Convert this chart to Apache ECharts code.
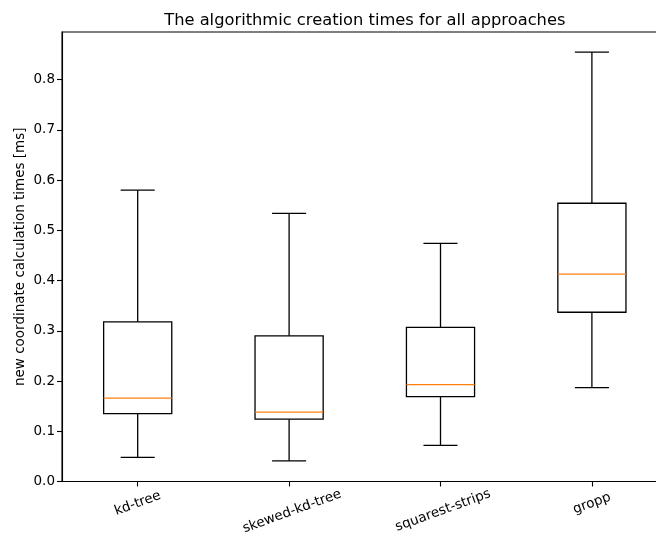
<!DOCTYPE html>
<html>
<head>
<meta charset="utf-8">
<script src="https://cdn.jsdelivr.net/npm/echarts@6/dist/echarts.min.js"></script>
<style>
  html, body { margin: 0; padding: 0; background: #fff; }
  #chart { width: 656px; height: 542px; }
</style>
</head>
<body>
<div id="chart"></div>
<script>
// Approaches on the x axis
const approaches = ['kd-tree', 'skewed-kd-tree', 'squarest-strips', 'gropp'];

// Box statistics per approach, in ms
const whiskerLow  = [0.048, 0.041, 0.072, 0.187];
const quartile1   = [0.135, 0.124, 0.169, 0.337];
const medians     = [0.166, 0.138, 0.193, 0.413];
const quartile3   = [0.318, 0.290, 0.307, 0.554];
const whiskerHigh = [0.580, 0.534, 0.474, 0.855];

// Y axis ticks
const yTicks = [0.0, 0.1, 0.2, 0.3, 0.4, 0.5, 0.6, 0.7, 0.8];

// Extra top padding for the longer rotated labels so they sit lower
const labelPad = [0, 17, 15, 0];

const FONT = 'DejaVu Sans';

const boxData = approaches.map((_, i) => [
  i, whiskerLow[i], quartile1[i], medians[i], quartile3[i], whiskerHigh[i]
]);

function renderBox(params, api) {
  const i = api.value(0);
  const pLow = api.coord([i, api.value(1)]);
  const pQ1 = api.coord([i, api.value(2)]);
  const pMed = api.coord([i, api.value(3)]);
  const pQ3 = api.coord([i, api.value(4)]);
  const pHigh = api.coord([i, api.value(5)]);
  const band = api.size([1, 0])[0];
  const boxW = band * 0.45;
  const capW = boxW / 2;
  const cx = pMed[0];
  const lineStyle = { stroke: '#000', lineWidth: 1.3, fill: null };
  const seg = (x1, y1, x2, y2, style) => ({
    type: 'line',
    shape: { x1, y1, x2, y2 },
    style: style || lineStyle
  });
  return {
    type: 'group',
    children: [
      // whiskers
      seg(cx, pQ1[1], cx, pLow[1]),
      seg(cx, pQ3[1], cx, pHigh[1]),
      // caps
      seg(cx - capW / 2, pLow[1], cx + capW / 2, pLow[1]),
      seg(cx - capW / 2, pHigh[1], cx + capW / 2, pHigh[1]),
      // box
      {
        type: 'rect',
        shape: { x: cx - boxW / 2, y: pQ3[1], width: boxW, height: pQ1[1] - pQ3[1] },
        style: { stroke: '#000', lineWidth: 1.3, fill: 'none' }
      },
      // median
      seg(cx - boxW / 2, pMed[1], cx + boxW / 2, pMed[1],
          { stroke: '#ff7f0e', lineWidth: 1.3 })
    ]
  };
}

const chart = echarts.init(document.getElementById('chart'), null, { renderer: 'canvas' });

const rich = {};
labelPad.forEach((p, i) => {
  rich['l' + i] = {
    fontFamily: FONT, fontSize: 13.5, color: '#000',
    padding: [p, 0, 0, 0]
  };
});

chart.setOption({
  animation: false,
  backgroundColor: '#fff',
  title: {
    text: 'The algorithmic creation times for all approaches',
    left: 359.8,
    top: 8,
    textAlign: 'center',
    textStyle: { fontFamily: FONT, fontSize: 16.3, fontWeight: 'normal', color: '#000' }
  },
  // plot area runs slightly past the right edge of the canvas
  grid: {
    left: 62, right: -11.6, top: 32, bottom: 60.5,
    outerBoundsMode: 'none',
    containLabel: false,
    show: true, borderColor: '#000', borderWidth: 1.1, backgroundColor: 'transparent'
  },
  xAxis: {
    type: 'category',
    data: approaches,
    boundaryGap: true,
    axisLine: { show: true, lineStyle: { color: '#000', width: 1.1 } },
    axisTick: { show: true, alignWithLabel: true, length: 5, lineStyle: { color: '#000', width: 1.1 } },
    splitLine: { show: false },
    axisLabel: {
      rotate: 20,
      align: 'center',
      verticalAlign: 'middle',
      margin: 22,
      interval: 0,
      hideOverlap: false,
      formatter: (v, i) => '{l' + i + '|' + v + '}',
      rich: rich
    }
  },
  yAxis: {
    type: 'value',
    min: 0,
    max: 0.895,
    interval: 0.1,
    name: 'new coordinate calculation times [ms]',
    nameLocation: 'middle',
    nameGap: 35,
    nameMoveOverlap: false,
    nameTextStyle: { fontFamily: FONT, fontSize: 13.5, color: '#000' },
    axisLine: { show: true, lineStyle: { color: '#000', width: 1.1 } },
    axisTick: { show: true, length: 5, lineStyle: { color: '#000', width: 1.1 } },
    splitLine: { show: false },
    axisLabel: {
      fontFamily: FONT, fontSize: 13.5, color: '#000', margin: 7,
      showMaxLabel: false,
      formatter: (v) => {
        const t = yTicks.find(k => Math.abs(k - v) < 1e-9);
        return t === undefined ? '' : t.toFixed(1);
      }
    }
  },
  series: [{
    type: 'custom',
    renderItem: renderBox,
    encode: { x: 0, y: [1, 2, 3, 4, 5] },
    data: boxData,
    clip: false
  }]
});
</script>
</body>
</html>
